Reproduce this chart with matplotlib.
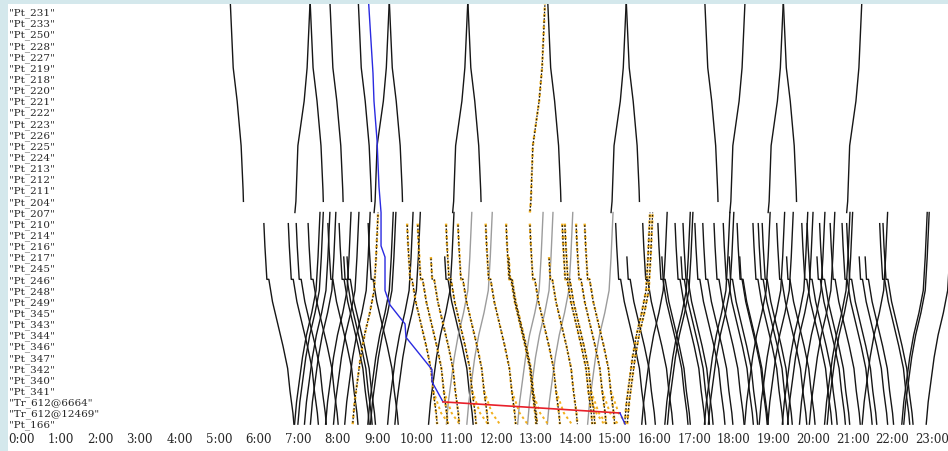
import numpy as np
import matplotlib.pyplot as plt

# station order, top to bottom
stations = ['"Pt_231"', '"Pt_233"', '"Pt_250"', '"Pt_228"', '"Pt_227"', '"Pt_219"',
            '"Pt_218"', '"Pt_220"', '"Pt_221"', '"Pt_222"', '"Pt_223"', '"Pt_226"',
            '"Pt_225"', '"Pt_224"', '"Pt_213"', '"Pt_212"', '"Pt_211"', '"Pt_204"',
            '"Pt_207"', '"Pt_210"', '"Pt_214"', '"Pt_216"', '"Pt_217"', '"Pt_245"',
            '"Pt_246"', '"Pt_248"', '"Pt_249"', '"Pt_345"', '"Pt_343"', '"Pt_344"',
            '"Pt_346"', '"Pt_347"', '"Pt_342"', '"Pt_340"', '"Pt_341"',
            '"Tr_612@6664"', '"Tr_612@12469"', '"Pt_166"']
hours = [f"{h}:00" for h in range(24)]

# running times (minutes) at the stations where the paths bend
# upper branch, leaving the terminus (row -1 is just above Pt_231)
up_branch_dn_rows = [-1, 5, 8, 12, 16, 17]
up_branch_dn_min = [0, 4.5, 10.5, 16.5, 19.5, 20]
# upper branch, minutes before reaching the terminus
up_branch_up_rows = [18, 17, 12, 8, 5, -1]
up_branch_up_min = [23, 21.5, 18.5, 9, 4.5, 0]
# lower section, down direction, minutes after leaving Pt_210
low_dn_rows = [19, 21, 22, 24, 24, 26, 28, 30, 32, 34, 36, 37]
low_dn_min = [0, 1.5, 2.5, 4.5, 7.5, 13, 21, 29, 36, 39.5, 44, 45.5]
# lower section, up direction, minutes after leaving Pt_166
low_up_rows = [37, 35, 33, 31, 29, 27, 25, 22, 18]
low_up_min = [0, 3, 7.5, 12, 18, 26, 32.5, 35.5, 38.5]

# upper branch trains: time at the terminus (minutes after midnight)
upper_down = [317, 438, 468, 511, 558, 677, 798, 917, 1036, 1155]
upper_up = [438, 558, 677, 917, 1097, 1155, 1274]
upper_up_yellow = [794]

# lower section down trains: departure from Pt_210
low_down_black = [368, 405, 417, 435, 465, 482, 526, 901, 942, 965, 991, 1003,
                  1021, 1033, 1050, 1064, 1085, 1109, 1117, 1123, 1145, 1183,
                  1191, 1210, 1226, 1244, 1251, 1301, 1306]
low_down_yellow = [585, 601, 644, 662, 704, 735, 771, 820, 824, 841, 854]
# down trains starting at Pt_217: departure time there
low_down22_black = [489, 494, 642, 918, 971, 1000, 1073, 1089, 1160, 1206, 1270, 1279]
low_down22_yellow = [621, 739, 800]

# lower section up trains: arrival at Pt_207
low_up_black = [453, 458, 468, 477, 500, 512, 529, 564, 568, 594, 605, 656, 979,
                1014, 1018, 1074, 1080, 1135, 1157, 1170, 1192, 1200, 1218, 1233,
                1256, 1260, 1313, 1373, 1376, 1410]
low_up_gray = [683, 714, 791, 806, 836, 897]
low_up_yellow = [541, 953, 957]

# the diverted train
blue_rows = [-1, 5.5, 8, 11.5, 15.7, 18, 21, 22, 25, 26.3, 28, 29.2, 32.1, 33.2, 35]
blue_min = [526.5, 533.3, 534.8, 539.4, 542.4, 545.5, 545.5, 551.5, 551.5, 559.1,
            581.8, 583.3, 622.7, 622.7, 639.4]
red_rows = [35, 36]
red_min = [639.4, 907.5]
blue_end_rows = [36, 37]
blue_end_min = [907.5, 915.2]

BLACK = '#161616'
GRAY = '#9c9c9c'
ORANGE = '#f2b01e'
TEXT = '#262626'

fig = plt.figure(figsize=(9.48, 4.51), dpi=100, facecolor='#d4e8ec')
ax = fig.add_axes([8 / 948, 0, 940 / 948, 447 / 451])
ax.set_facecolor('white')


def path(ax, t, r, kind):
    if kind == 'yellow':
        ax.plot(t, r, color=ORANGE, lw=1.7, ls=(0, (1.3, 1.3)), zorder=3)
        ax.plot(t, r, color=BLACK, lw=0.9, ls=(1.3, (1.3, 1.3)), zorder=3.1)
    elif kind == 'gray':
        ax.plot(t, r, color=GRAY, lw=1.0, zorder=2)
    else:
        ax.plot(t, r, color=BLACK, lw=1.0, zorder=2)


# upper branch
for t in upper_down:
    path(ax, t + np.array(up_branch_dn_min), up_branch_dn_rows, 'black')
for t in upper_up:
    path(ax, t - np.array(up_branch_up_min), up_branch_up_rows, 'black')
for t in upper_up_yellow:
    path(ax, t - np.array(up_branch_up_min), up_branch_up_rows, 'yellow')

# lower section, down direction
for kind, deps in (('black', low_down_black), ('yellow', low_down_yellow)):
    for t in deps:
        times = t + np.array(low_dn_min)
        path(ax, times, low_dn_rows, kind)
        if kind == 'yellow':
            # dotted run onto the Tr_612 tracks
            t34 = times[low_dn_rows.index(34)]
            ax.plot([t34, t34 + 12, t34 + 24], [34, 36, 37], color=ORANGE,
                    lw=1.4, ls=(0, (1.3, 1.6)), zorder=2.5)
for kind, deps in (('black', low_down22_black), ('yellow', low_down22_yellow)):
    for t in deps:
        times = t + np.array(low_dn_min[2:]) - low_dn_min[2]
        path(ax, times, low_dn_rows[2:], kind)

# lower section, up direction
span = low_up_min[-1]
for kind, arrs in (('black', low_up_black), ('gray', low_up_gray),
                   ('yellow', low_up_yellow)):
    for t in arrs:
        path(ax, t - span + np.array(low_up_min), low_up_rows, kind)

ax.plot(blue_min, blue_rows, color='#2a2ae0', lw=1.0, zorder=4)
ax.plot(red_min, red_rows, color='#e8202a', lw=1.2, zorder=4)
ax.plot(blue_end_min, blue_end_rows, color='#2a2ae0', lw=1.0, zorder=4)

ax.set_xlim(-19.7, 1404.5)
ax.set_ylim(39.41, -0.718)

ax.set_yticks(range(len(stations)))
ax.set_yticklabels(stations, family='DejaVu Serif', fontsize=7.5, color=TEXT)
for lab in ax.get_yticklabels():
    lab.set_horizontalalignment('left')
ax.tick_params(axis='y', length=0, pad=-1)

ax.set_xticks(range(0, 24 * 60, 60))
ax.set_xticklabels(hours, family='DejaVu Serif', fontsize=8.5, color=TEXT)
ax.tick_params(axis='x', length=0, pad=-13)

for s in ax.spines.values():
    s.set_visible(False)

fig.savefig('out.png', dpi=100, facecolor=fig.get_facecolor())
